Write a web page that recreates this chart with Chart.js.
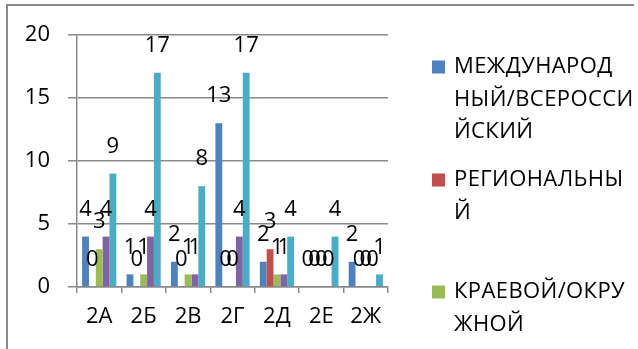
<!DOCTYPE html>
<html>
<head>
<meta charset="utf-8">
<script src="https://cdn.jsdelivr.net/npm/chart.js@4/dist/chart.umd.min.js"></script>
<style>
  html, body { margin: 0; padding: 0; background: #fff; }
  #wrap { width: 638px; height: 349px; position: relative; }
</style>
</head>
<body>
<div id="wrap"><canvas id="c" width="638" height="349"></canvas></div>
<script>
// Classes (categories)
const categories = ['2А', '2Б', '2В', '2Г', '2Д', '2Е', '2Ж'];

// Participation counts per level
const international = [4, 1, 2, 13, 2, 0, 2];
const regional      = [0, 0, 0, 0, 3, 0, 0];
const territorial   = [3, 1, 1, 0, 1, 0, 0];
const municipal     = [4, 4, 1, 4, 1, 0, 0];
const school        = [9, 17, 8, 17, 4, 4, 1];

const seriesNames = [
  'МЕЖДУНАРОДНЫЙ/ВСЕРОССИЙСКИЙ',
  'РЕГИОНАЛЬНЫЙ',
  'КРАЕВОЙ/ОКРУЖНОЙ',
  'МУНИЦИПАЛЬНЫЙ',
  'ШКОЛЬНЫЙ'
];
const seriesColors = ['#4F81BD', '#C0504D', '#9BBB59', '#8064A2', '#4BACC6'];

// Legend text, wrapped the way the legend box lays it out
const legendLines = [
  ['МЕЖДУНАРОД', 'НЫЙ/ВСЕРОССИ', 'ЙСКИЙ'],
  ['РЕГИОНАЛЬНЫ', 'Й'],
  ['КРАЕВОЙ/ОКРУ', 'ЖНОЙ']
];

const yTicks = { min: 0, max: 20, step: 5 };

const FONT = '"Open Sans", "Liberation Sans", sans-serif';
const GRID = '#8a8a8a';

// Outer frame of the chart object
const framePlugin = {
  id: 'frame',
  beforeDraw(chart) {
    const ctx = chart.ctx;
    ctx.save();
    ctx.strokeStyle = GRID;
    ctx.lineWidth = 2;
    ctx.beginPath();
    ctx.moveTo(7, 360);
    ctx.lineTo(7, 5);
    ctx.lineTo(634, 5);
    ctx.stroke();
    ctx.restore();
  }
};

// Value labels above every bar
const valueLabels = {
  id: 'valueLabels',
  afterDatasetsDraw(chart) {
    const ctx = chart.ctx;
    ctx.save();
    ctx.font = '22px ' + FONT;
    ctx.fillStyle = '#000';
    ctx.textAlign = 'center';
    ctx.textBaseline = 'middle';
    chart.data.datasets.forEach((ds, i) => {
      const meta = chart.getDatasetMeta(i);
      meta.data.forEach((bar, j) => {
        ctx.fillText(String(ds.data[j]), bar.x, bar.y - 27);
      });
    });
    ctx.restore();
  }
};

// Legend on the right with wrapped entries
const sideLegend = {
  id: 'sideLegend',
  afterDraw(chart) {
    const ctx = chart.ctx;
    const startY = [67, 180, 292];
    const lineGap = 32.5;
    ctx.save();
    ctx.font = '22px ' + FONT;
    if ('letterSpacing' in ctx) ctx.letterSpacing = '0.4px';
    ctx.textAlign = 'left';
    ctx.textBaseline = 'middle';
    legendLines.forEach((lines, i) => {
      ctx.fillStyle = seriesColors[i];
      ctx.fillRect(432, startY[i] - 6.5, 13, 13);
      ctx.fillStyle = '#000';
      lines.forEach((t, k) => ctx.fillText(t, 454, startY[i] + k * lineGap));
    });
    ctx.restore();
  }
};

const seriesValues = [international, regional, territorial, municipal, school];

function draw() {
  new Chart(document.getElementById('c'), {
    type: 'bar',
    data: {
      labels: categories,
      datasets: seriesValues.map((vals, i) => ({
        label: seriesNames[i],
        data: vals,
        backgroundColor: seriesColors[i],
        borderWidth: 0,
        categoryPercentage: 0.77,
        barPercentage: 1.0
      }))
    },
    options: {
      responsive: false,
      animation: false,
      events: [],
      layout: { padding: { top: 35, right: 250, bottom: 0, left: 0 } },
      plugins: { legend: { display: false }, tooltip: { enabled: false } },
      scales: {
        x: {
          afterFit(scale) { scale.height = 62; },
          grid: { drawOnChartArea: false, drawTicks: true, tickLength: 6, color: GRID, lineWidth: 1.5, offset: true },
          border: { display: true, color: GRID, width: 1.5 },
          ticks: { color: '#000', font: { family: FONT, size: 22 }, padding: 11, maxRotation: 0, autoSkip: false }
        },
        y: {
          min: yTicks.min,
          max: yTicks.max,
          afterFit(scale) { scale.width = 77; },
          grid: { color: GRID, lineWidth: 1.5, tickLength: 9 },
          border: { display: true, color: GRID, width: 1.5 },
          ticks: { stepSize: yTicks.step, color: '#000', font: { family: FONT, size: 22 }, padding: 18 }
        }
      }
    },
    plugins: [framePlugin, valueLabels, sideLegend]
  });
}

if (document.fonts && document.fonts.load) {
  Promise.all([document.fonts.load('22px "Open Sans"')]).then(draw, draw);
} else {
  draw();
}
</script>
</body>
</html>
